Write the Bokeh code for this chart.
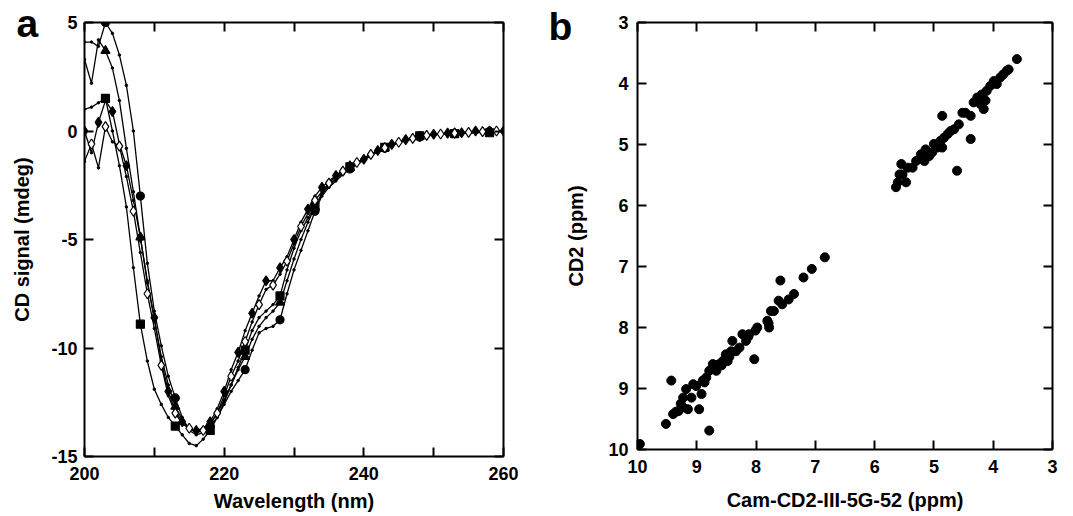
from bokeh.plotting import figure
from bokeh.layouts import row
from bokeh.models import Range1d, LinearAxis, FixedTicker
from bokeh.embed import file_html
from bokeh.resources import INLINE

FONT = "Liberation Sans"

# ---------------- Panel a data: CD spectra ----------------
wavelength = list(range(200, 261))

cd_circle = [4.1, 4.1, 3.9, 5.0, 4.5, 3.5, 2.1, 0.0, -3.0, -6.1,
             -8.3, -9.9, -11.3, -12.3, -13.2, -13.8, -14.0, -13.9, -13.6, -13.2,
             -12.6, -12.0, -11.5, -11.0, -10.1, -9.3, -9.1, -9.0, -8.7, -7.5,
             -6.4, -5.5, -4.6, -3.7, -3.0, -2.6, -2.3, -2.0, -1.75, -1.55,
             -1.35, -1.15, -0.95, -0.8, -0.68, -0.55, -0.45, -0.35, -0.28, -0.22,
             -0.18, -0.15, -0.12, -0.12, -0.1, -0.08, -0.06, -0.03, -0.02, 0.0, 0.0]

cd_triangle = [3.3, 2.2, 4.2, 3.7, 2.9, 1.4, -0.8, -2.8, -4.9, -6.9,
               -8.7, -10.4, -11.7, -12.7, -13.3, -13.7, -13.9, -13.8, -13.5, -13.0,
               -12.4, -11.7, -11.0, -10.4, -9.6, -9.0, -8.6, -8.3, -7.9, -6.9,
               -5.9, -5.0, -4.2, -3.5, -2.9, -2.5, -2.2, -1.95, -1.7, -1.5,
               -1.3, -1.1, -0.92, -0.78, -0.65, -0.52, -0.42, -0.33, -0.26, -0.2,
               -0.17, -0.14, -0.12, -0.1, -0.08, -0.07, -0.05, -0.03, -0.02, 0.0, 0.0]

cd_square = [1.0, 1.1, 1.3, 1.5, 0.0, -1.6, -3.5, -6.3, -8.9, -10.6,
             -11.9, -12.6, -13.2, -13.6, -14.0, -14.4, -14.5, -14.2, -13.8, -13.2,
             -12.5, -11.7, -10.9, -10.1, -9.2, -8.6, -8.3, -8.0, -7.6, -6.4,
             -5.4, -4.6, -4.0, -3.5, -2.9, -2.5, -2.2, -1.9, -1.65, -1.45,
             -1.25, -1.05, -0.9, -0.75, -0.62, -0.5, -0.4, -0.3, -0.22, -0.2,
             -0.16, -0.14, -0.13, -0.12, -0.1, -0.1, -0.08, -0.06, -0.08, -0.02, 0.0]

cd_diamond = [0.0, -1.0, 0.4, 1.4, 0.9, -0.6, -1.6, -3.2, -4.9, -7.0,
              -8.6, -10.6, -12.0, -12.9, -13.4, -13.7, -13.8, -13.7, -13.4, -12.8,
              -12.0, -11.0, -10.2, -9.2, -8.4, -7.6, -6.9, -6.9, -6.3, -5.8,
              -5.0, -4.2, -3.6, -3.0, -2.6, -2.3, -2.05, -1.8, -1.6, -1.45,
              -1.3, -1.1, -0.9, -0.75, -0.62, -0.5, -0.4, -0.3, -0.25, -0.22,
              -0.15, -0.12, -0.1, -0.05, -0.08, -0.05, 0.0, -0.02, 0.0, 0.0, 0.0]

cd_open_diamond = [-1.4, -0.6, -1.7, 0.2, -0.5, -0.7, -2.1, -3.7, -5.6, -7.5,
                   -9.1, -10.8, -12.2, -13.0, -13.5, -13.7, -13.9, -13.8, -13.5, -13.0,
                   -12.2, -11.3, -10.6, -9.7, -8.8, -8.0, -7.3, -7.1, -6.6, -6.0,
                   -5.2, -4.4, -3.8, -3.2, -2.8, -2.4, -2.1, -1.85, -1.65, -1.45,
                   -1.25, -1.08, -0.9, -0.77, -0.64, -0.52, -0.42, -0.34, -0.26, -0.2,
                   -0.16, -0.14, -0.12, -0.1, -0.08, -0.06, -0.05, -0.03, -0.02, 0.0, 0.0]

a_xticks = [200, 220, 240, 260]
a_xminor = [210, 230, 250]
a_yticks = [-15, -10, -5, 0, 5]
a_ytick_labels = ["-15", "-10", "-5", "0", "5"]

# ---------------- Panel b data: chemical shifts ----------------
shift_cam = [9.96, 9.52, 9.43, 9.40, 9.35, 9.31, 9.27, 9.23, 9.18, 9.23, 9.15, 9.09,
             9.06, 9.01, 8.96, 8.92, 8.90, 8.87, 8.84, 8.79, 8.79, 8.73, 8.70, 8.67,
             8.66, 8.62, 8.58, 8.56, 8.51, 8.48, 8.45, 8.42, 8.40, 8.34, 8.28, 8.23,
             8.17, 8.13, 8.12, 8.03, 8.01, 7.98, 7.81, 7.79, 7.78, 7.75, 7.70, 7.62,
             7.59, 7.56, 7.45, 7.36, 7.20, 7.06, 6.84,
             5.64, 5.61, 5.58, 5.55, 5.53, 5.47, 5.44, 5.36, 5.30, 5.22, 5.16, 5.14,
             5.08, 5.03, 5.00, 4.94, 4.89, 4.86, 4.86, 4.83, 4.77, 4.72, 4.66, 4.61,
             4.58, 4.52, 4.47, 4.38, 4.38, 4.33, 4.27, 4.21, 4.19, 4.16, 4.13, 4.11,
             4.05, 3.99, 3.94, 3.88, 3.83, 3.77, 3.74, 3.60]
shift_cd2 = [9.91, 9.58, 8.87, 9.42, 9.38, 9.37, 9.25, 9.31, 9.01, 9.15, 9.34, 9.15,
             8.93, 8.96, 9.34, 9.09, 8.87, 8.90, 8.82, 9.69, 8.71, 8.60, 8.65, 8.71,
             8.62, 8.60, 8.62, 8.55, 8.44, 8.55, 8.48, 8.39, 8.22, 8.39, 8.33, 8.11,
             8.22, 8.15, 8.11, 8.52, 8.05, 8.00, 7.89, 7.93, 8.00, 7.73, 7.73, 7.56,
             7.23, 7.62, 7.54, 7.45, 7.18, 7.04, 6.85,
             5.70, 5.62, 5.49, 5.32, 5.49, 5.62, 5.38, 5.38, 5.27, 5.16, 5.27, 5.08,
             5.19, 5.13, 4.99, 5.05, 4.94, 5.05, 4.53, 4.89, 4.83, 4.78, 4.75, 5.43,
             4.67, 4.48, 4.48, 4.91, 4.53, 4.31, 4.23, 4.34, 4.18, 4.42, 4.28, 4.12,
             4.04, 3.96, 4.01, 3.90, 3.85, 3.79, 3.77, 3.60]

b_ticks = [3, 4, 5, 6, 7, 8, 9, 10]


def style_axis(ax, show_labels=True, standoff=10):
    ax.axis_line_width = 2
    ax.axis_line_color = "black"
    ax.major_tick_line_width = 2
    ax.major_tick_line_color = "black"
    ax.major_tick_in = 9
    ax.major_tick_out = 0
    ax.minor_tick_line_width = 2
    ax.minor_tick_line_color = "black"
    ax.minor_tick_in = 9
    ax.minor_tick_out = 0
    ax.major_label_text_font = FONT
    ax.major_label_text_font_style = "bold"
    if show_labels:
        ax.major_label_text_color = "black"
        ax.major_label_text_font_size = "18px"
        ax.major_label_standoff = standoff
    else:
        ax.major_label_text_color = None
        ax.major_label_text_font_size = "0px"
        ax.major_label_standoff = 0
    ax.axis_label_text_font = FONT
    ax.axis_label_text_font_style = "bold"
    ax.axis_label_text_font_size = "20px"
    ax.axis_label_text_color = "black"


def base_fig(letter, x_range, y_range, fw, fh, left, right, top, bottom,
             letter_offset, letter_standoff):
    p = figure(title=letter, title_location="above",
               x_range=x_range, y_range=y_range, frame_width=fw, frame_height=fh,
               min_border_left=left, min_border_right=right,
               min_border_top=top, min_border_bottom=bottom,
               output_backend="svg", toolbar_location=None)
    p.grid.visible = False
    p.outline_line_color = None
    p.background_fill_color = "white"
    p.border_fill_color = "white"
    p.title.align = "left"
    p.title.offset = letter_offset
    p.title.standoff = letter_standoff
    p.title.text_font = FONT
    p.title.text_font_style = "bold"
    p.title.text_font_size = "39px"
    p.title.text_color = "black"
    return p


# ---------------- Panel a ----------------
pa = base_fig("a", Range1d(200, 260), Range1d(-15, 5), 419, 434, 84, 37, 21, 61, -68, -44)
pa.xaxis.ticker = FixedTicker(ticks=a_xticks, minor_ticks=a_xminor)
pa.yaxis.ticker = FixedTicker(ticks=a_yticks, minor_ticks=[])
pa.yaxis.major_label_overrides = dict(zip(a_yticks, a_ytick_labels))
style_axis(pa.xaxis[0], True, 10)
style_axis(pa.yaxis[0], True, 7)
pa.xaxis.axis_label = "Wavelength (nm)"
pa.xaxis.axis_label_standoff = 7
pa.yaxis.axis_label = "CD signal (mdeg)"
pa.yaxis.axis_label_standoff = 15
ax_top = LinearAxis(ticker=FixedTicker(ticks=a_xticks, minor_ticks=a_xminor))
style_axis(ax_top, False)
pa.add_layout(ax_top, "above")
ax_right = LinearAxis(ticker=FixedTicker(ticks=a_yticks, minor_ticks=[]))
style_axis(ax_right, False)
pa.add_layout(ax_right, "right")

series = [
    (cd_circle, "circle", 3, 5, "black", 8),
    (cd_triangle, "triangle", 3, 5, "black", 9),
    (cd_square, "square", 3, 5, "black", 8),
    (cd_diamond, "diamond", 0, 2, "black", 10),
    (cd_open_diamond, "diamond", 1, 2, "white", 10),
]
for vals, mk, start, step, fill, size in series:
    pa.line(wavelength, vals, line_color="black", line_width=1.3)
    pa.scatter(wavelength, vals, marker="circle", size=2.5, color="black")
    pa.scatter(wavelength[start::step], vals[start::step], marker=mk, size=size,
               fill_color=fill, line_color="black", line_width=1.2)

# ---------------- Panel b ----------------
pb = base_fig("b", Range1d(10, 3), Range1d(10, 3), 415, 427, 97, 13, 22, 67, -89, -50)
pb.xaxis.ticker = FixedTicker(ticks=b_ticks, minor_ticks=[])
pb.yaxis.ticker = FixedTicker(ticks=b_ticks, minor_ticks=[])
style_axis(pb.xaxis[0], True, 10)
style_axis(pb.yaxis[0], True, 9)
pb.xaxis.axis_label = "Cam-CD2-III-5G-52 (ppm)"
pb.xaxis.axis_label_standoff = 13
pb.yaxis.axis_label = "CD2 (ppm)"
pb.yaxis.axis_label_standoff = 18
bx_top = LinearAxis(ticker=FixedTicker(ticks=b_ticks, minor_ticks=[]))
style_axis(bx_top, False)
pb.add_layout(bx_top, "above")
by_right = LinearAxis(ticker=FixedTicker(ticks=b_ticks, minor_ticks=[]))
style_axis(by_right, False)
pb.add_layout(by_right, "right")

pb.scatter(shift_cam, shift_cd2, marker="circle", size=9, color="black")

layout = row(pa, pb)
open("out.html", "w").write(file_html(layout, INLINE))
